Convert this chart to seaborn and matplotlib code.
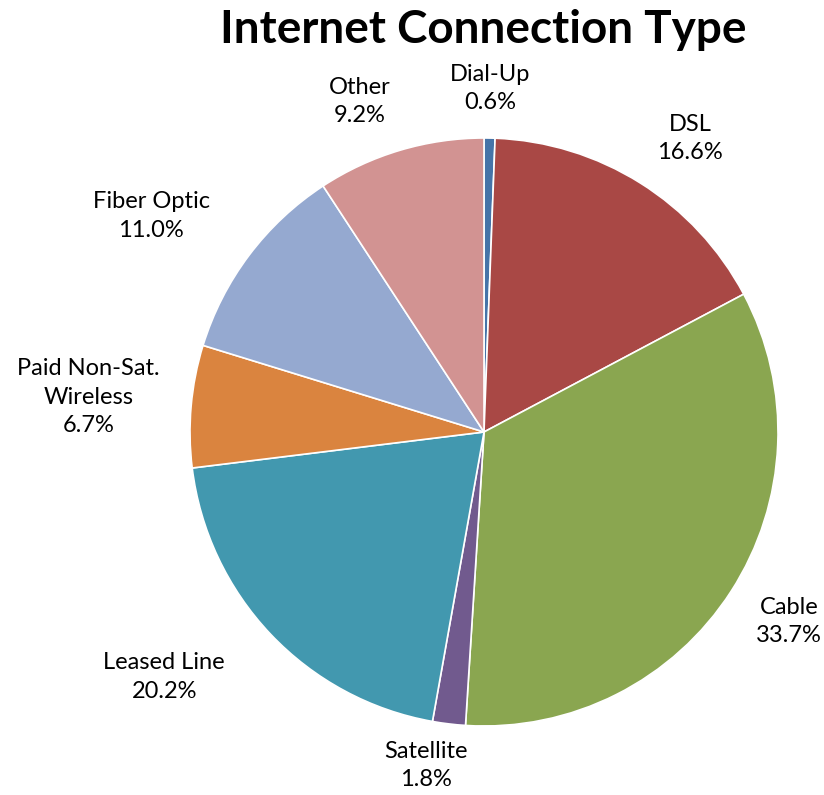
import matplotlib
matplotlib.use("Agg")
import matplotlib.pyplot as plt
import seaborn as sns
import numpy as np

# data, clockwise from the top
labels = ["Dial-Up", "DSL", "Cable", "Satellite", "Leased Line",
          "Paid Non-Sat.\nWireless", "Fiber Optic", "Other"]
shares = [0.6, 16.6, 33.7, 1.8, 20.2, 6.7, 11.0, 9.2]
colors = ["#4674A8", "#A94845", "#8AA650", "#715A8E", "#4298AF",
          "#DA843F", "#95A9D0", "#D29392"]

# label placement: distance (radii) and angle nudge (deg) from slice middle
label_dist = [1.17, 1.22, 1.22, 1.15, 1.37, 1.35, 1.35, 1.20]
label_nudge = [0, -3, 1, -3, -6, 0, 4, 4]

sns.set_theme(style="white")
plt.rcParams['font.family'] = ['Lato', 'DejaVu Sans']

fig = plt.figure(figsize=(8.24, 7.95), dpi=100)
ax = fig.add_axes([190 / 824, 69 / 795, 588 / 824, 588 / 795])

wedges, _ = ax.pie(shares, colors=sns.color_palette(colors), startangle=90,
                   counterclock=False, radius=1,
                   wedgeprops=dict(edgecolor="white", linewidth=1.2))
ax.set_xlim(-1, 1)
ax.set_ylim(-1, 1)
ax.axis("off")

for w, lab, val, d, nd in zip(wedges, labels, shares, label_dist, label_nudge):
    ang = np.deg2rad((w.theta1 + w.theta2) / 2 + nd)
    ax.text(d * np.cos(ang), d * np.sin(ang), f"{lab}\n{val:.1f}%",
            ha="center", va="center", fontsize=17, linespacing=1.42,
            color="black", clip_on=False)

fig.text(483 / 824, 1 - 30 / 795, "Internet Connection Type",
         ha="center", va="center", fontsize=33, fontweight="bold",
         color="black")

fig.savefig("out.png", dpi=100)
